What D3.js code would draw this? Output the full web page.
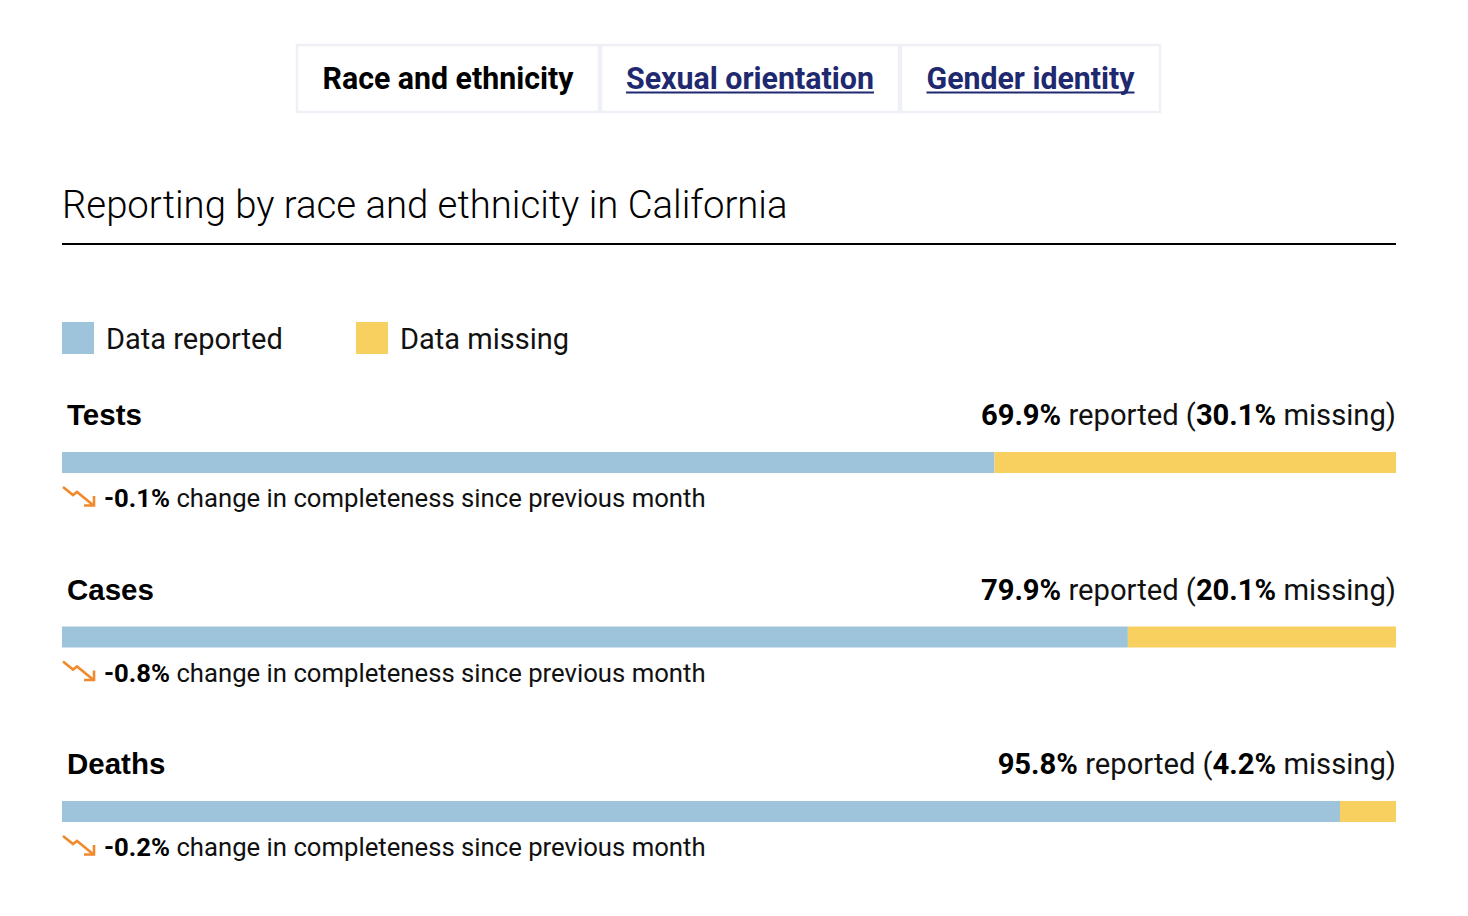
<!DOCTYPE html>
<html><head><meta charset="utf-8">
<script src="https://cdn.jsdelivr.net/npm/d3@7"></script>
<style>
html,body{margin:0;padding:0;background:#fff;}
svg{display:block;}
</style></head>
<body>
<svg id="chart" width="1468" height="916"></svg>
<script>
const tabs = ["Race and ethnicity", "Sexual orientation", "Gender identity"];
const title = "Reporting by race and ethnicity in California";
const legendLabels = ["Data reported", "Data missing"];
const categories = ["Tests", "Cases", "Deaths"];
const reported = [69.9, 79.9, 95.8];
const missing = [30.1, 20.1, 4.2];
const change = ["-0.1%", "-0.8%", "-0.2%"];

const colReported = "#9dc4db";
const colMissing = "#f7d060";
const svg = d3.select("#chart");

// Tabs
const tabBoxes = [[297, 302], [601, 298], [901, 259]];
const tabTextLen = [251, 248, 208];
tabs.forEach((t, i) => {
  const [x, w] = tabBoxes[i];
  svg.append("rect").attr("x", x).attr("y", 45).attr("width", w).attr("height", 67)
    .attr("fill", "#fff").attr("stroke", "#eff0f6").attr("stroke-width", 2.5);
  svg.append("text").attr("x", x + w / 2).attr("y", 88.5)
    .attr("text-anchor", "middle")
    .attr("font-family", "Roboto").attr("font-weight", 700).attr("font-size", 31)
    .attr("fill", i === 0 ? "#000" : "#1f2970")
    .attr("textLength", tabTextLen[i]).attr("lengthAdjust", "spacingAndGlyphs")
    .text(t);
  if (i > 0) {
    svg.append("line").attr("x1", x + w / 2 - tabTextLen[i] / 2).attr("x2", x + w / 2 + tabTextLen[i] / 2)
      .attr("y1", 92.5).attr("y2", 92.5).attr("stroke", "#1f2970").attr("stroke-width", 2);
  }
});

// Title
svg.append("text").attr("x", 62).attr("y", 218)
  .attr("font-family", "Roboto").attr("font-weight", 300).attr("font-size", 38.3)
  .attr("fill", "#000").text(title);
svg.append("line").attr("x1", 62).attr("x2", 1396).attr("y1", 244).attr("y2", 244)
  .attr("stroke", "#000").attr("stroke-width", 2);

// Legend
const legX = [62, 356];
legendLabels.forEach((l, i) => {
  svg.append("rect").attr("x", legX[i]).attr("y", 322).attr("width", 32).attr("height", 32)
    .attr("fill", i === 0 ? colReported : colMissing);
  svg.append("text").attr("x", legX[i] + 44).attr("y", 349)
    .attr("font-family", "Roboto").attr("font-weight", 400).attr("font-size", 29)
    .attr("fill", "#111").text(l);
});

// Bars
const x = d3.scaleLinear().domain([0, 100]).range([62, 1396]);
const rowY = d3.scaleBand().domain(categories).range([452, 452 + 174.5 * 3]);

categories.forEach((c, i) => {
  const y0 = rowY(c);
  const g = svg.append("g");
  g.append("text").attr("x", 67).attr("y", y0 - 27)
    .attr("font-family", "Liberation Sans, Arial, sans-serif").attr("font-weight", 700).attr("font-size", 29.5)
    .attr("fill", "#000").text(c);
  const rt = g.append("text").attr("x", 1396).attr("y", y0 - 27).attr("text-anchor", "end")
    .attr("font-family", "Roboto").attr("font-size", 29.2).attr("fill", "#111");
  rt.append("tspan").attr("font-weight", 700).attr("fill", "#000").text(reported[i] + "%");
  rt.append("tspan").text(" reported (");
  rt.append("tspan").attr("font-weight", 700).attr("fill", "#000").text(missing[i] + "%");
  rt.append("tspan").text(" missing)");

  g.append("rect").attr("x", x(0)).attr("y", y0).attr("width", x(reported[i]) - x(0)).attr("height", 21)
    .attr("fill", colReported);
  g.append("rect").attr("x", x(reported[i])).attr("y", y0).attr("width", x(100) - x(reported[i])).attr("height", 21)
    .attr("fill", colMissing);

  // arrow
  const ay = y0 + 34;
  g.append("path")
    .attr("d", `M63,${ay + 1} L73,${ay + 9} L77,${ay + 6} L93,${ay + 19}`)
    .attr("fill", "none").attr("stroke", "#f08a2c").attr("stroke-width", 2.6)
    .attr("stroke-linejoin", "miter");
  g.append("path")
    .attr("d", `M84,${ay + 19.5} L94,${ay + 19.5} L94,${ay + 10}`)
    .attr("fill", "none").attr("stroke", "#f08a2c").attr("stroke-width", 2.6);

  const ct = g.append("text").attr("x", 104).attr("y", y0 + 55)
    .attr("font-family", "Roboto").attr("font-size", 25.7).attr("fill", "#111");
  ct.append("tspan").attr("font-weight", 700).attr("fill", "#000").text(change[i]);
  ct.append("tspan").text(" change in completeness since previous month");
});
</script>
</body></html>
